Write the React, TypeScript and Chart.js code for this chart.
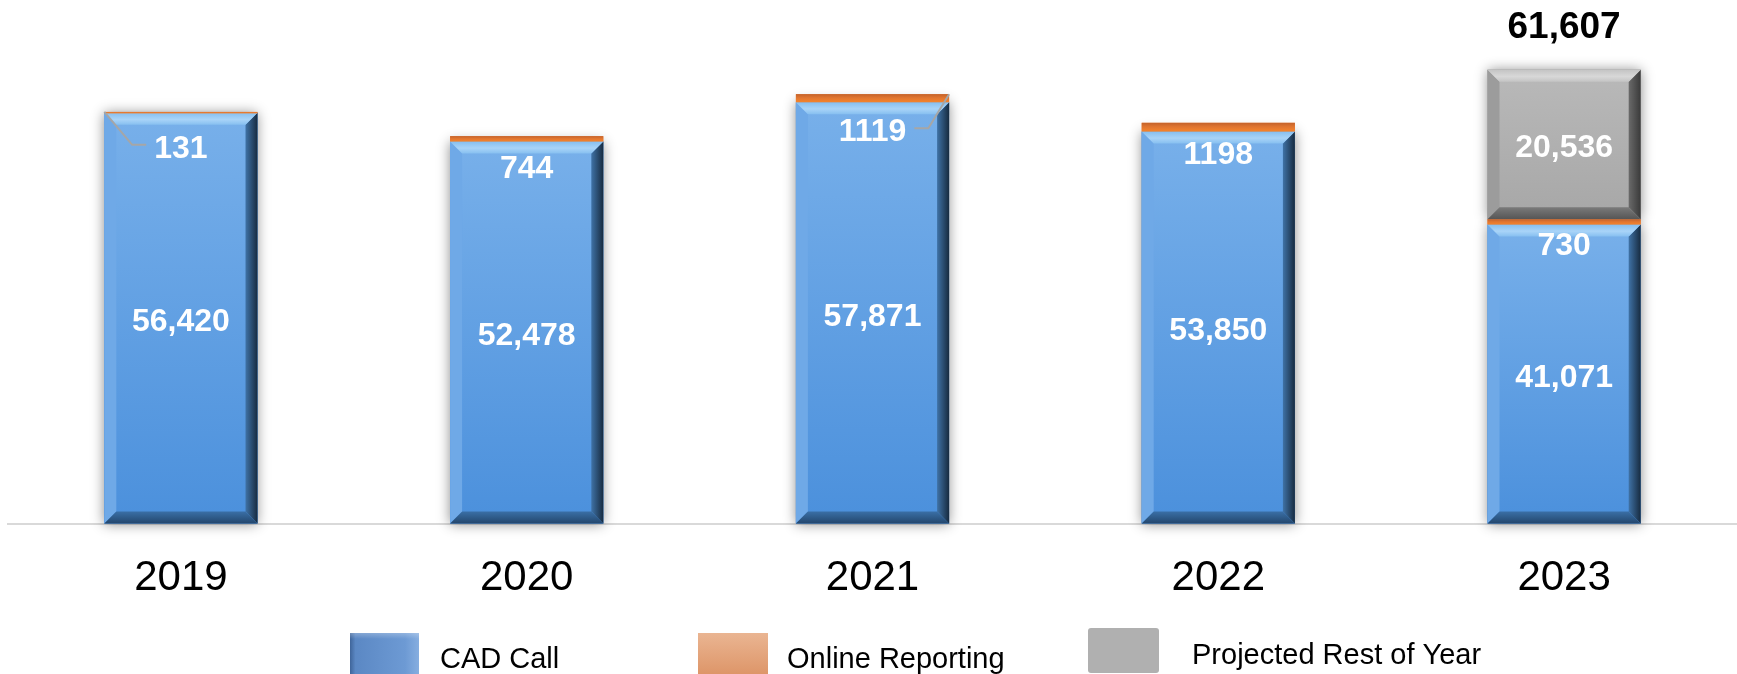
import React, { useEffect, useRef } from 'react';
import { Chart, registerables } from 'chart.js';

Chart.register(...registerables);

// ---------- data ----------
const years = ['2019', '2020', '2021', '2022', '2023'];
const cadCalls = [56420, 52478, 57871, 53850, 41071];
const onlineReports = [131, 744, 1119, 1198, 730];
const projectedRest = [0, 0, 0, 0, 20536];
const seriesNames = ['CAD Call', 'Online Reporting', 'Projected Rest of Year'];

// ---------- style ----------
const W = 1737;
const H = 674;
const FONT = '"Liberation Sans", Arial, Helvetica, sans-serif';
const leaderSides = ['left', '', 'right', '', ''];
const onlineLabelOffsets = [36, 28, 30, 24, 22];
const TEXT_DY = 4;

type BevelStyle = {
  faceTop: string;
  faceBottom: string;
  topA: string;
  topB: string;
  left: string;
  rightIn: string;
  rightOut: string;
  bottomIn: string;
  bottomOut: string;
};

const blueStyle: BevelStyle = {
  faceTop: '#78b0ea',
  faceBottom: '#4b90dc',
  topA: '#a9d4f8',
  topB: '#86bff0',
  left: '#6fa9e7',
  rightIn: '#3f72a6',
  rightOut: '#172b40',
  bottomIn: '#3a6fa6',
  bottomOut: '#23466c',
};

const grayStyle: BevelStyle = {
  faceTop: '#b9b9b9',
  faceBottom: '#a7a7a7',
  topA: '#d8d8d8',
  topB: '#c4c4c4',
  left: '#9c9c9c',
  rightIn: '#6a6a6a',
  rightOut: '#3a3a3a',
  bottomIn: '#7a7a7a',
  bottomOut: '#555555',
};

function rectOf(el: any) {
  const p = el.getProps(['x', 'y', 'base', 'width'], true);
  const l = p.x - p.width / 2;
  const r = p.x + p.width / 2;
  const t = Math.min(p.y, p.base);
  const b = Math.max(p.y, p.base);
  return { l, r, t, b, x: p.x };
}

function poly(ctx: CanvasRenderingContext2D, pts: number[][], fill: any) {
  ctx.beginPath();
  ctx.moveTo(pts[0][0], pts[0][1]);
  for (let i = 1; i < pts.length; i++) ctx.lineTo(pts[i][0], pts[i][1]);
  ctx.closePath();
  ctx.fillStyle = fill;
  ctx.fill();
}

function drawBevelBar(ctx: CanvasRenderingContext2D, rc: any, st: BevelStyle) {
  const { l, r, t, b } = rc;
  const h = b - t;
  if (h < 1) return;
  const bv = Math.min(12, h / 3, (r - l) / 4);
  const face = ctx.createLinearGradient(0, t, 0, b);
  face.addColorStop(0, st.faceTop);
  face.addColorStop(1, st.faceBottom);
  ctx.fillStyle = face;
  ctx.fillRect(l, t, r - l, h);
  poly(ctx, [[l, t], [l + bv, t + bv], [l + bv, b - bv], [l, b]], st.left);
  const rg = ctx.createLinearGradient(r - bv, 0, r, 0);
  rg.addColorStop(0, st.rightIn);
  rg.addColorStop(1, st.rightOut);
  poly(ctx, [[r, t], [r, b], [r - bv, b - bv], [r - bv, t + bv]], rg);
  const bg = ctx.createLinearGradient(0, b - bv, 0, b);
  bg.addColorStop(0, st.bottomIn);
  bg.addColorStop(1, st.bottomOut);
  poly(ctx, [[l, b], [r, b], [r - bv, b - bv], [l + bv, b - bv]], bg);
  const tg = ctx.createLinearGradient(0, t, 0, t + bv);
  tg.addColorStop(0, st.topB);
  tg.addColorStop(0.55, st.topA);
  tg.addColorStop(1, st.topB);
  poly(ctx, [[l, t], [r, t], [r - bv, t + bv], [l + bv, t + bv]], tg);
}

const barLookPlugin = {
  id: 'barLook',
  beforeDatasetsDraw(chart: any) {
    const ctx: CanvasRenderingContext2D = chart.ctx;
    [0, 2].forEach((di) => {
      const meta = chart.getDatasetMeta(di);
      const vals = chart.data.datasets[di].data as number[];
      meta.data.forEach((el: any, i: number) => {
        if (!vals[i]) return;
        const rc = rectOf(el);
        ctx.save();
        ctx.shadowColor = 'rgba(0,0,0,0.45)';
        ctx.shadowBlur = 12;
        ctx.fillStyle = '#777';
        ctx.fillRect(rc.l, rc.t, rc.r - rc.l, rc.b - rc.t);
        ctx.restore();
      });
    });
  },
  afterDatasetsDraw(chart: any) {
    const ctx: CanvasRenderingContext2D = chart.ctx;
    ctx.save();
    const styles: Record<number, BevelStyle> = { 0: blueStyle, 2: grayStyle };
    [0, 2].forEach((di) => {
      const meta = chart.getDatasetMeta(di);
      const vals = chart.data.datasets[di].data as number[];
      meta.data.forEach((el: any, i: number) => {
        if (!vals[i]) return;
        drawBevelBar(ctx, rectOf(el), styles[di]);
      });
    });
    const om = chart.getDatasetMeta(1);
    om.data.forEach((el: any) => {
      const rc = rectOf(el);
      if (rc.b - rc.t < 0.5) return;
      const g = ctx.createLinearGradient(0, rc.t, 0, rc.b);
      g.addColorStop(0, '#c4622a');
      g.addColorStop(0.45, '#e07530');
      g.addColorStop(1, '#f5842c');
      ctx.fillStyle = g;
      ctx.fillRect(rc.l, rc.t, rc.r - rc.l, Math.max(rc.b - rc.t, 1.5));
    });
    ctx.restore();
  },
  afterDraw(chart: any) {
    const ctx: CanvasRenderingContext2D = chart.ctx;
    ctx.save();
    ctx.textAlign = 'center';
    ctx.textBaseline = 'middle';
    const cadMeta = chart.getDatasetMeta(0);
    const onMeta = chart.getDatasetMeta(1);
    const prMeta = chart.getDatasetMeta(2);
    cadMeta.data.forEach((el: any, i: number) => {
      const rc = rectOf(el);
      ctx.font = `bold 32px ${FONT}`;
      ctx.fillStyle = '#ffffff';
      ctx.fillText(cadCalls[i].toLocaleString('en-US'), rc.x, (rc.t + rc.b) / 2 + TEXT_DY);
      const ly = rc.t + onlineLabelOffsets[i];
      const txt = String(onlineReports[i]);
      ctx.fillText(txt, rc.x, ly);
      const side = leaderSides[i];
      if (side) {
        const orc = rectOf(onMeta.data[i]);
        const tw = ctx.measureText(txt).width;
        const lineY = ly - TEXT_DY;
        ctx.strokeStyle = '#a6a6a6';
        ctx.lineWidth = 2;
        ctx.beginPath();
        if (side === 'left') {
          const ex = rc.x - tw / 2 - 8;
          ctx.moveTo(orc.l, orc.t);
          ctx.lineTo(ex - 14, lineY);
          ctx.lineTo(ex, lineY);
        } else {
          const ex = rc.x + tw / 2 + 8;
          ctx.moveTo(orc.r, orc.t);
          ctx.lineTo(ex + 14, lineY);
          ctx.lineTo(ex, lineY);
        }
        ctx.stroke();
      }
    });
    prMeta.data.forEach((el: any, i: number) => {
      if (!projectedRest[i]) return;
      const rc = rectOf(el);
      ctx.font = `bold 32px ${FONT}`;
      ctx.fillStyle = '#ffffff';
      ctx.fillText(projectedRest[i].toLocaleString('en-US'), rc.x, (rc.t + rc.b) / 2 + TEXT_DY);
      ctx.font = `bold 37px ${FONT}`;
      ctx.fillStyle = '#000000';
      ctx.fillText((cadCalls[i] + projectedRest[i]).toLocaleString('en-US'), rc.x, rc.t - 42);
    });

    const items = [
      { label: seriesNames[0], sx: 350, sy: 633, sw: 69, sh: 46, tx: 440, ty: 668, kind: 'blue' },
      { label: seriesNames[1], sx: 698, sy: 633, sw: 70, sh: 46, tx: 787, ty: 668, kind: 'orange' },
      { label: seriesNames[2], sx: 1088, sy: 628, sw: 71, sh: 45, tx: 1192, ty: 664, kind: 'gray' },
    ];
    items.forEach((it) => {
      if (it.kind === 'blue') {
        const g = ctx.createLinearGradient(it.sx, 0, it.sx + it.sw, 0);
        g.addColorStop(0, '#3f659a');
        g.addColorStop(0.08, '#5b88c4');
        g.addColorStop(0.8, '#6d9ad4');
        g.addColorStop(1, '#86aee0');
        ctx.fillStyle = g;
        ctx.fillRect(it.sx, it.sy, it.sw, it.sh);
        const tg = ctx.createLinearGradient(0, it.sy, 0, it.sy + 6);
        tg.addColorStop(0, 'rgba(255,255,255,0.25)');
        tg.addColorStop(1, 'rgba(255,255,255,0)');
        ctx.fillStyle = tg;
        ctx.fillRect(it.sx, it.sy, it.sw, 6);
      } else if (it.kind === 'orange') {
        const g = ctx.createLinearGradient(0, it.sy, 0, it.sy + it.sh);
        g.addColorStop(0, '#eab592');
        g.addColorStop(1, '#dc9264');
        ctx.fillStyle = g;
        ctx.fillRect(it.sx, it.sy, it.sw, it.sh);
      } else {
        ctx.fillStyle = '#b0b0b0';
        ctx.beginPath();
        (ctx as any).roundRect(it.sx, it.sy, it.sw, it.sh, 3);
        ctx.fill();
      }
      ctx.font = `29px ${FONT}`;
      ctx.fillStyle = '#000000';
      ctx.textAlign = 'left';
      ctx.textBaseline = 'alphabetic';
      ctx.fillText(it.label, it.tx, it.ty);
    });
    ctx.restore();
  },
};

export default function App() {
  const canvasRef = useRef<HTMLCanvasElement | null>(null);

  useEffect(() => {
    const canvas = canvasRef.current;
    if (!canvas) return;
    const chart = new Chart(canvas, {
      type: 'bar',
      data: {
        labels: years,
        datasets: [
          { label: seriesNames[0], data: cadCalls, backgroundColor: '#63a1e4', stack: 's' },
          { label: seriesNames[1], data: onlineReports, backgroundColor: '#ed7d31', stack: 's' },
          { label: seriesNames[2], data: projectedRest, backgroundColor: '#b0b0b0', stack: 's' },
        ],
      },
      options: {
        responsive: false,
        animation: false,
        devicePixelRatio: 1,
        layout: { padding: { left: 8, right: 0, top: 14, bottom: 40 } },
        datasets: { bar: { barPercentage: 0.443, categoryPercentage: 1 } },
        plugins: {
          legend: { display: false },
          tooltip: { enabled: false },
        },
        scales: {
          x: {
            stacked: true,
            grid: { display: false, drawTicks: false },
            border: { display: true, color: '#d9d9d9', width: 2 },
            ticks: {
              color: '#000000',
              padding: 30,
              font: { family: FONT, size: 42 },
            },
          },
          y: {
            stacked: true,
            display: false,
            min: 0,
            max: 70000,
          },
        },
      },
      plugins: [barLookPlugin],
    });
    return () => chart.destroy();
  }, []);

  return (
    <div style={{ position: 'absolute', left: 0, top: 0, width: W, height: H, background: '#ffffff' }}>
      <canvas ref={canvasRef} width={W} height={H} style={{ display: 'block', width: W, height: H }} />
    </div>
  );
}
